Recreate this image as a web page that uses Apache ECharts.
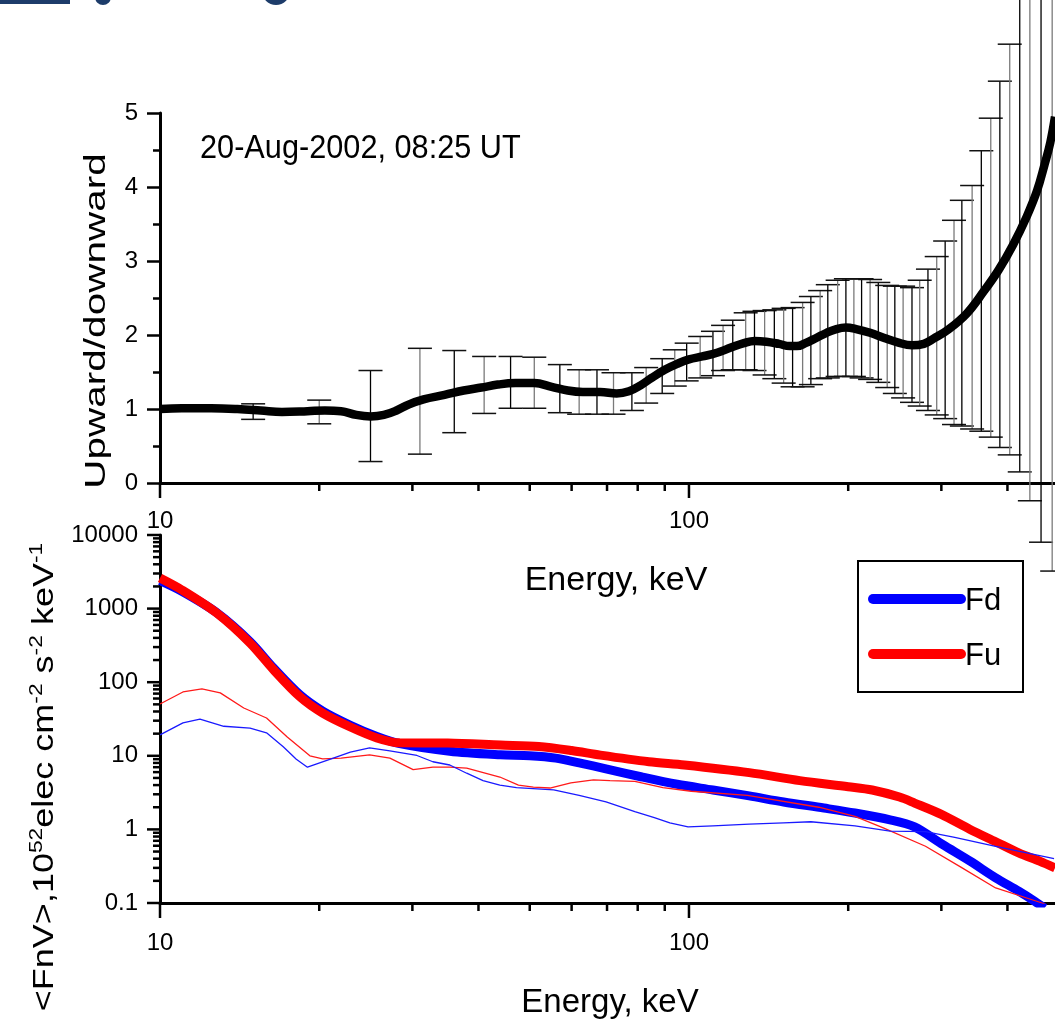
<!DOCTYPE html>
<html>
<head>
<meta charset="utf-8">
<script src="https://cdn.jsdelivr.net/npm/echarts@6/dist/echarts.min.js"></script>
<style>
html,body{margin:0;padding:0;background:#fff;}
#chart{width:1055px;height:1026px;}
</style>
</head>
<body>
<div id="chart"></div>
<script>
const FONT = '"Liberation Sans", Arial, Helvetica, sans-serif';

// ---- Upward/downward ratio (upper panel) ----
const ratioEnergy = [10, 11, 12.5, 14, 15.5, 17, 19, 20.5, 22, 23.5, 25, 26.5, 28, 29.5, 31.5, 34.5, 37.5, 40.5, 43.5, 47, 51, 55, 59, 63, 68, 73, 77, 81, 85, 90, 95, 100, 106, 113, 120, 127, 133, 140, 148, 155, 160, 166, 174, 182, 190, 198, 207, 220, 234, 248, 264, 278, 290, 310, 335, 360, 385, 410, 435, 455, 470, 482, 492];
const ratioValue  = [1.00, 1.01, 1.01, 1.00, 0.98, 0.96, 0.97, 0.98, 0.97, 0.92, 0.90, 0.92, 0.98, 1.06, 1.13, 1.19, 1.25, 1.29, 1.33, 1.35, 1.35, 1.30, 1.25, 1.23, 1.23, 1.21, 1.24, 1.32, 1.42, 1.53, 1.61, 1.67, 1.71, 1.76, 1.83, 1.89, 1.92, 1.91, 1.88, 1.85, 1.85, 1.89, 1.96, 2.03, 2.08, 2.10, 2.08, 2.03, 1.96, 1.90, 1.86, 1.88, 1.95, 2.08, 2.29, 2.58, 2.88, 3.22, 3.60, 3.95, 4.30, 4.60, 4.95];

// ratio uncertainty: upper and lower ends of each error bar
const errEnergy = [15, 20, 25, 31, 36, 41, 46, 51, 57, 62, 67, 72, 78, 83, 89, 94, 99, 105, 111, 116, 121, 128, 133, 139, 145, 151, 157, 164, 170, 177, 183, 191, 198, 205, 212, 220, 228, 237, 245, 254, 264, 273, 283, 294, 305, 317, 328, 343, 357, 372, 387, 404, 422, 441, 463, 486];
const errHigh = [1.07, 1.12, 1.52, 1.82, 1.79, 1.71, 1.71, 1.70, 1.60, 1.53, 1.53, 1.49, 1.49, 1.56, 1.68, 1.80, 1.89, 1.98, 2.05, 2.13, 2.20, 2.30, 2.32, 2.33, 2.34, 2.36, 2.37, 2.44, 2.52, 2.60, 2.68, 2.74, 2.76, 2.76, 2.76, 2.75, 2.71, 2.67, 2.66, 2.66, 2.64, 2.74, 2.89, 3.06, 3.27, 3.55, 3.82, 4.02, 4.49, 4.93, 5.43, 5.93, 6.80, 6.80, 6.80, 6.80];
const errLow  = [0.86, 0.80, 0.29, 0.39, 0.68, 0.94, 1.01, 1.01, 0.95, 0.93, 0.93, 0.93, 0.98, 1.08, 1.21, 1.31, 1.38, 1.42, 1.45, 1.52, 1.53, 1.53, 1.52, 1.46, 1.41, 1.35, 1.30, 1.30, 1.33, 1.41, 1.42, 1.44, 1.44, 1.44, 1.42, 1.40, 1.36, 1.29, 1.21, 1.15, 1.09, 1.04, 0.98, 0.92, 0.87, 0.79, 0.77, 0.73, 0.70, 0.62, 0.48, 0.38, 0.15, -0.24, -0.80, -1.19];

// ---- Spectra <FnV> (lower panel) ----
// Fd, thick
const fdThickEnergy = [10, 11, 12.8, 14.8, 16.4, 18.4, 20.3, 22.9, 25.7, 28.4, 35.3, 44, 50, 56, 62, 70, 81.5, 95, 111, 130, 151, 180, 206, 240, 267, 302, 340, 380, 420, 451, 470];
const fdThickValue  = [2400, 1720, 880, 355, 155, 67, 40.5, 26, 18.3, 14.6, 11.5, 10.3, 10.0, 9.3, 8.0, 6.6, 5.15, 4.1, 3.43, 2.85, 2.36, 1.95, 1.67, 1.35, 1.08, 0.62, 0.37, 0.22, 0.145, 0.105, 0.085];
// Fu, thick
const fuThickEnergy = [10, 11, 12.8, 14.8, 16.4, 18.4, 20.3, 22.9, 25.7, 28.4, 35, 44, 52, 60, 68, 84, 98, 130, 162, 200, 222, 250, 267, 300, 340, 380, 420, 460, 492];
const fuThickValue  = [2600, 1790, 870, 340, 147, 63, 38, 24.6, 17.5, 15.0, 14.9, 14.0, 13.4, 11.8, 10.2, 8.3, 7.5, 5.9, 4.6, 3.8, 3.43, 2.75, 2.28, 1.6, 1.0, 0.68, 0.48, 0.37, 0.30];
// Fd, thin
const fdThinEnergy = [10, 11.05, 11.9, 13.2, 14.8, 15.9, 17.1, 18.1, 19.0, 21.0, 22.9, 24.9, 27.2, 30.6, 32.8, 35.3, 38, 40.8, 43.9, 47.2, 55.5, 62, 69.7, 79, 86, 92, 99.6, 111, 130, 151, 170, 206, 240, 280, 318, 380, 490];
const fdThinValue  = [19.2, 28, 31.6, 25.2, 23.7, 20.5, 13.3, 9.0, 7.0, 9.0, 11.2, 12.8, 11.7, 10.1, 8.3, 7.5, 5.8, 4.6, 4.0, 3.7, 3.45, 2.9, 2.36, 1.75, 1.45, 1.23, 1.08, 1.12, 1.18, 1.23, 1.27, 1.12, 0.95, 0.93, 0.78, 0.59, 0.40];
// Fu, thin
const fuThinEnergy = [10, 11.05, 12.0, 13.0, 14.4, 15.9, 17.4, 19.2, 20.3, 22, 24.9, 27.2, 30.1, 32.8, 35.3, 38, 43.9, 47.6, 50.8, 54.6, 59.8, 66, 70.9, 79, 89.3, 101, 129, 176, 206, 233, 280, 326, 380, 465, 490];
const fuThinValue  = [50.6, 73.7, 81, 71.6, 44.6, 32.6, 18.0, 10.0, 9.1, 9.3, 10.3, 9.3, 6.5, 7.0, 7.0, 6.8, 5.15, 4.0, 3.75, 3.65, 4.3, 4.7, 4.6, 4.5, 3.7, 3.3, 2.9, 2.0, 1.5, 1.05, 0.59, 0.31, 0.16, 0.10, 0.085];

// ---- Axis ticks and labels ----
const ratioTickLabels = ['0', '1', '2', '3', '4', '5'];
const energyTickLabels = ['10', '100'];                       // 10^1, 10^2
const fluxTickLabels = ['0.1', '1', '10', '100', '1000', '10000']; // 10^-1 .. 10^4
const energyTicks = [10, 20, 30, 40, 50, 60, 70, 80, 90, 100, 200, 300, 400];
const fluxDecades = [0.1, 1, 10, 100, 1000];
const fluxTicks = [10000];
fluxDecades.forEach(d => { for (let k = 1; k <= 9; k++) fluxTicks.push(+(d * k).toPrecision(3)); });

const ENERGY_MIN = 10, ENERGY_MAX = 492;

function isDecade(v) {
  const l = Math.log10(v);
  return Math.abs(l - Math.round(l)) < 1e-6;
}
function pairs(xs, ys) { return xs.map((x, i) => [x, ys[i]]); }

const tickStyle = { stroke: '#000', lineWidth: 2.5 };

// ticks hanging below a log energy axis
function energyTickSeries(gridIdx, base) {
  return {
    type: 'custom', xAxisIndex: gridIdx, yAxisIndex: gridIdx, silent: true, z: 6,
    data: energyTicks.map(v => [v, base]),
    renderItem: (params, api) => {
      const v = api.value(0);
      const c = api.coord([v, base]);
      const len = isDecade(v) ? 15 : 8;
      return { type: 'line', shape: { x1: c[0], y1: c[1], x2: c[0], y2: c[1] + len }, style: tickStyle };
    }
  };
}

const labelStyle = { color: '#000', fontSize: 24, fontFamily: FONT };
const axisLineStyle = { show: true, onZero: false, lineStyle: { color: '#000', width: 3 } };

const option = {
  backgroundColor: '#fff',
  animation: false,
  grid: [
    { left: 160, top: 113, width: 895, height: 370, show: false },
    { left: 160, top: 535, width: 895, height: 368, show: false }
  ],
  xAxis: [
    {
      gridIndex: 0, type: 'log', logBase: 10, min: ENERGY_MIN, max: ENERGY_MAX,
      axisLine: axisLineStyle, axisTick: { show: false }, minorTick: { show: false },
      splitLine: { show: false },
      axisLabel: Object.assign({ margin: 26, showMaxLabel: false,
        formatter: v => isDecade(v) ? energyTickLabels[Math.round(Math.log10(v)) - 1] || '' : '' }, labelStyle)
    },
    {
      gridIndex: 1, type: 'log', logBase: 10, min: ENERGY_MIN, max: ENERGY_MAX,
      axisLine: axisLineStyle, axisTick: { show: false }, minorTick: { show: false },
      splitLine: { show: false },
      axisLabel: Object.assign({ margin: 28, showMaxLabel: false,
        formatter: v => isDecade(v) ? energyTickLabels[Math.round(Math.log10(v)) - 1] || '' : '' }, labelStyle)
    }
  ],
  yAxis: [
    {
      gridIndex: 0, type: 'value', min: 0, max: 5, interval: 1,
      axisLine: axisLineStyle,
      axisTick: { show: true, length: 13, lineStyle: { color: '#000', width: 2.5 } },
      minorTick: { show: true, splitNumber: 2, length: 7, lineStyle: { color: '#000', width: 2.5 } },
      splitLine: { show: false }, minorSplitLine: { show: false },
      axisLabel: Object.assign({ margin: 22, formatter: v => ratioTickLabels[Math.round(v)] || '' }, labelStyle)
    },
    {
      gridIndex: 1, type: 'log', logBase: 10, min: 0.1, max: 10000, splitNumber: 5,
      axisLine: axisLineStyle, axisTick: { show: false }, minorTick: { show: false },
      splitLine: { show: false },
      axisLabel: Object.assign({ margin: 22,
        formatter: v => isDecade(v) ? fluxTickLabels[Math.round(Math.log10(v)) + 1] || '' : '' }, labelStyle)
    }
  ],
  series: [
    // error bars of the ratio
    {
      type: 'custom', xAxisIndex: 0, yAxisIndex: 0, silent: true, z: 2,
      data: errEnergy.map((e, i) => [e, errHigh[i], errLow[i]]),
      encode: { x: 0, y: [1, 2] },
      renderItem: (params, api) => {
        const e = api.value(0);
        const top = api.coord([e, api.value(1)]);
        const bot = api.coord([e, api.value(2)]);
        const stroke = params.dataIndex % 2 ? '#7a7a7a' : '#000';
        const hw = 12;
        return {
          type: 'group',
          children: [
            { type: 'line', shape: { x1: top[0], y1: top[1], x2: bot[0], y2: bot[1] }, style: { stroke, lineWidth: 1.3 } },
            { type: 'line', shape: { x1: top[0] - hw, y1: top[1], x2: top[0] + hw, y2: top[1] }, style: { stroke: '#111', lineWidth: 1.5 } },
            { type: 'line', shape: { x1: bot[0] - hw, y1: bot[1], x2: bot[0] + hw, y2: bot[1] }, style: { stroke: '#111', lineWidth: 1.5 } }
          ]
        };
      }
    },
    {
      name: 'ratio', type: 'line', xAxisIndex: 0, yAxisIndex: 0, z: 3,
      data: pairs(ratioEnergy, ratioValue),
      showSymbol: false, smooth: 0.4,
      lineStyle: { color: '#000', width: 8.5 }
    },
    energyTickSeries(0, 0),

    // spectra
    {
      name: 'Fd', type: 'line', xAxisIndex: 1, yAxisIndex: 1, z: 3,
      data: pairs(fdThickEnergy, fdThickValue), showSymbol: false, smooth: 0.3,
      lineStyle: { color: '#0000ff', width: 9, cap: 'butt' }
    },
    {
      name: 'Fu', type: 'line', xAxisIndex: 1, yAxisIndex: 1, z: 3,
      data: pairs(fuThickEnergy, fuThickValue), showSymbol: false, smooth: 0.3,
      lineStyle: { color: '#ff0000', width: 9, cap: 'butt' }
    },
    {
      name: 'Fu thin', type: 'line', xAxisIndex: 1, yAxisIndex: 1, z: 4,
      data: pairs(fuThinEnergy, fuThinValue), showSymbol: false,
      lineStyle: { color: '#ff1a1a', width: 1.3 }
    },
    {
      name: 'Fd thin', type: 'line', xAxisIndex: 1, yAxisIndex: 1, z: 4,
      data: pairs(fdThinEnergy, fdThinValue), showSymbol: false,
      lineStyle: { color: '#1a1aff', width: 1.3 }
    },
    energyTickSeries(1, 0.1),
    // ticks on the flux axis
    {
      type: 'custom', xAxisIndex: 1, yAxisIndex: 1, silent: true, z: 6,
      data: fluxTicks.map(v => [ENERGY_MIN, v]),
      renderItem: (params, api) => {
        const v = api.value(1);
        const c = api.coord([ENERGY_MIN, v]);
        const len = isDecade(v) ? 13 : 7;
        return { type: 'line', shape: { x1: c[0] - len, y1: c[1], x2: c[0], y2: c[1] }, style: tickStyle };
      }
    }
  ],
  graphic: [
    // header logo strip
    { type: 'rect', shape: { x: 0, y: 0, width: 70, height: 4 }, style: { fill: '#1d3c6a' }, silent: true },
    { type: 'circle', shape: { cx: 103, cy: -3, r: 8 }, style: { fill: '#1d3c6a' }, silent: true },
    { type: 'circle', shape: { cx: 276, cy: -9, r: 14 }, style: { fill: '#1d3c6a' }, silent: true },

    // event label
    { type: 'text', x: 200, y: 149, scaleX: 0.93, silent: true,
      style: { text: '20-Aug-2002, 08:25 UT', font: '33px ' + FONT, fill: '#000', align: 'left', verticalAlign: 'middle' } },

    // axis titles
    { type: 'text', x: 97, y: 321, rotation: Math.PI / 2, scaleX: 1.35, silent: true,
      style: { text: 'Upward/downward', font: '30px ' + FONT, fill: '#000', align: 'center', verticalAlign: 'middle' } },
    { type: 'text', x: 616, y: 581, silent: true,
      style: { text: 'Energy, keV', font: '34px ' + FONT, fill: '#000', align: 'center', verticalAlign: 'middle' } },
    { type: 'text', x: 610, y: 1003, silent: true,
      style: { text: 'Energy, keV', font: '33px ' + FONT, fill: '#000', align: 'center', verticalAlign: 'middle' } },
    { type: 'text', x: 45, y: 777, rotation: Math.PI / 2, scaleX: 1.2, silent: true,
      style: {
        text: '<FnV>,10{sup|52}elec cm{sup|-2} s{sup|-2} keV{sup|-1}',
        fontFamily: FONT, fontSize: 30, fill: '#000', align: 'center', verticalAlign: 'middle',
        rich: {
          sup: { fontFamily: FONT, fontSize: 19, fill: '#000', padding: [0, 0, 16, 0] }
        }
      } },

    // legend
    { type: 'rect', shape: { x: 858, y: 561, width: 165, height: 131 }, style: { fill: '#fff', stroke: '#000', lineWidth: 2 }, z: 20, silent: true },
    { type: 'line', shape: { x1: 873, y1: 599, x2: 961, y2: 599 }, style: { stroke: '#0000ff', lineWidth: 10, lineCap: 'round' }, z: 21, silent: true },
    { type: 'text', x: 965, y: 601, z: 21, silent: true,
      style: { text: 'Fd', font: '31px ' + FONT, fill: '#000', align: 'left', verticalAlign: 'middle' } },
    { type: 'line', shape: { x1: 873, y1: 654, x2: 961, y2: 654 }, style: { stroke: '#ff0000', lineWidth: 10, lineCap: 'round' }, z: 21, silent: true },
    { type: 'text', x: 965, y: 656, z: 21, silent: true,
      style: { text: 'Fu', font: '31px ' + FONT, fill: '#000', align: 'left', verticalAlign: 'middle' } }
  ]
};

const chart = echarts.init(document.getElementById('chart'), null, { renderer: 'canvas' });
chart.setOption(option);
</script>
</body>
</html>
